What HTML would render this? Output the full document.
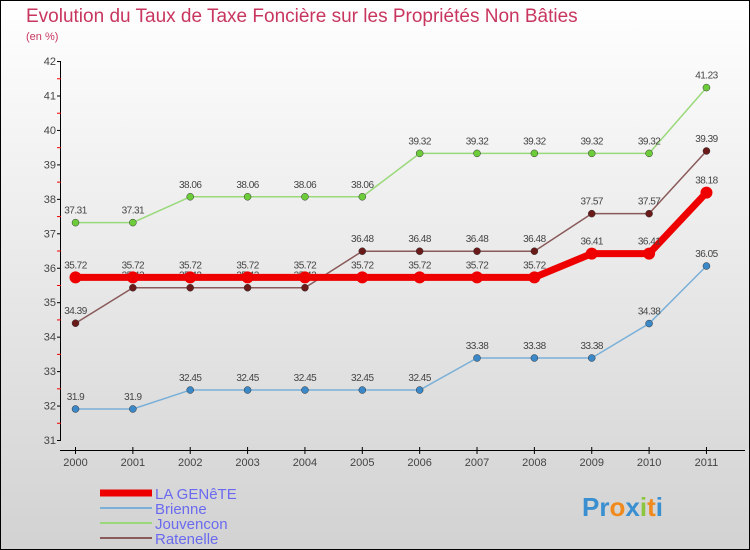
<!DOCTYPE html>
<html><head><meta charset="utf-8"><style>
body{margin:0}
#c{width:750px;height:550px;position:relative;box-sizing:border-box;border:1px solid #000;background:linear-gradient(#ffffff,#d2d2d2);font-family:"Liberation Sans",sans-serif;overflow:hidden}
</style></head><body>
<div id="c">
<svg id="s" width="750" height="550" style="position:absolute;left:-1px;top:-1px">
<text x="26" y="22" font-size="19" fill="#c8365f">Evolution du Taux de Taxe Foncière sur les Propriétés Non Bâties</text>
<text x="26" y="40" font-size="11" fill="#c8365f">(en %)</text>
<g id="axes"></g><g id="series"></g><g id="legend"></g>
<text x="582" y="516" font-size="26" font-weight="bold" fill="#3a8fd0">Pr<tspan fill="#f08a1c">o</tspan><tspan fill="#3a8fd0">x</tspan><tspan fill="#8cc63f">i</tspan><tspan fill="#f08a1c">t</tspan><tspan fill="#3a8fd0">i</tspan></text>
</svg></div>
<script>
const years=["2000","2001","2002","2003","2004","2005","2006","2007","2008","2009","2010","2011"];
const yTicks=[31,32,33,34,35,36,37,38,39,40,41,42];
const genete=[35.72,35.72,35.72,35.72,35.72,35.72,35.72,35.72,35.72,36.41,36.41,38.18];
const brienne=[31.9,31.9,32.45,32.45,32.45,32.45,32.45,33.38,33.38,33.38,34.38,36.05];
const jouvencon=[37.31,37.31,38.06,38.06,38.06,38.06,39.32,39.32,39.32,39.32,39.32,41.23];
const ratenelle=[34.39,35.42,35.42,35.42,35.42,36.48,36.48,36.48,36.48,37.57,37.57,39.39];
const NS="http://www.w3.org/2000/svg";
const X=i=>75.5+i*57.36, Y=v=>440-(v-31)*34.45;
function mk(p,t,a){const e=document.createElementNS(NS,t);for(const k in a)e.setAttribute(k,a[k]);p.appendChild(e);return e;}
const ax=document.getElementById('axes');
mk(ax,'line',{x1:60.5,y1:Y(42),x2:60.5,y2:440,stroke:'#000'});
mk(ax,'line',{x1:60,y1:450.5,x2:745,y2:450.5,stroke:'#000'});
yTicks.forEach(v=>{
 mk(ax,'line',{x1:57,x2:61,y1:Y(v)+.5,y2:Y(v)+.5,stroke:'#000'});
 if(v<42)mk(ax,'line',{x1:57,x2:61,y1:Y(v+.5)+.5,y2:Y(v+.5)+.5,stroke:'#e00'});
 const t=mk(ax,'text',{x:56,y:Y(v)+4,'font-size':11,fill:'#444','text-anchor':'end'});t.textContent=v;
 
 
});
years.forEach((y,i)=>{
 mk(ax,'line',{x1:X(i),x2:X(i),y1:447,y2:454,stroke:'#000'});
 const t=mk(ax,'text',{x:X(i),y:466,'font-size':11,fill:'#444','text-anchor':'middle'});t.textContent=y;
 
 
});
const sg=document.getElementById('series');
const series=[
 {n:'jouvencon',d:jouvencon,c:'#9ad97a',p:'#6ccc3a',w:1.5,r:3.5},
 {n:'ratenelle',d:ratenelle,c:'#8a5a5a',p:'#6b1a1a',w:1.5,r:3.5},
 {n:'brienne',d:brienne,c:'#7ab0d8',p:'#3a88c8',w:1.5,r:3.5},
 {n:'la-genete',d:genete,c:'#ee0000',p:'#ee0000',w:7,r:6}];
series.forEach(s=>{
 const g=mk(sg,'g',{});
 
 
 mk(g,'polyline',{points:s.d.map((v,i)=>X(i)+','+Y(v)).join(' '),fill:'none',stroke:s.c,'stroke-width':s.w,'stroke-linejoin':'round'});
 s.d.forEach((v,i)=>{
  const c=mk(g,'circle',{cx:X(i),cy:Y(v),r:s.r,fill:s.p,stroke:'#333','stroke-width':s.r>4?0:0.5});
  
  
  const t=mk(g,'text',{x:X(i),y:Y(v)-9,'font-size':10,fill:'#444','text-anchor':'middle','letter-spacing':'-0.5'});t.textContent=v;
 });
});
const lg=document.getElementById('legend');
const L=[['LA GENêTE','#ee0000',7,493],['Brienne','#7ab0d8',2,508],['Jouvencon','#9ad97a',2,523],['Ratenelle','#8a5a5a',2,538]];
L.forEach(l=>{
 const g=mk(lg,'g',{});
 
 
 mk(g,'line',{x1:100,x2:152,y1:l[3],y2:l[3],stroke:l[1],'stroke-width':l[2]});
 const t=mk(g,'text',{x:155,y:l[3]+6,'font-size':15,fill:'#6a6af0'});t.textContent=l[0];
});
</script>
</body></html>
